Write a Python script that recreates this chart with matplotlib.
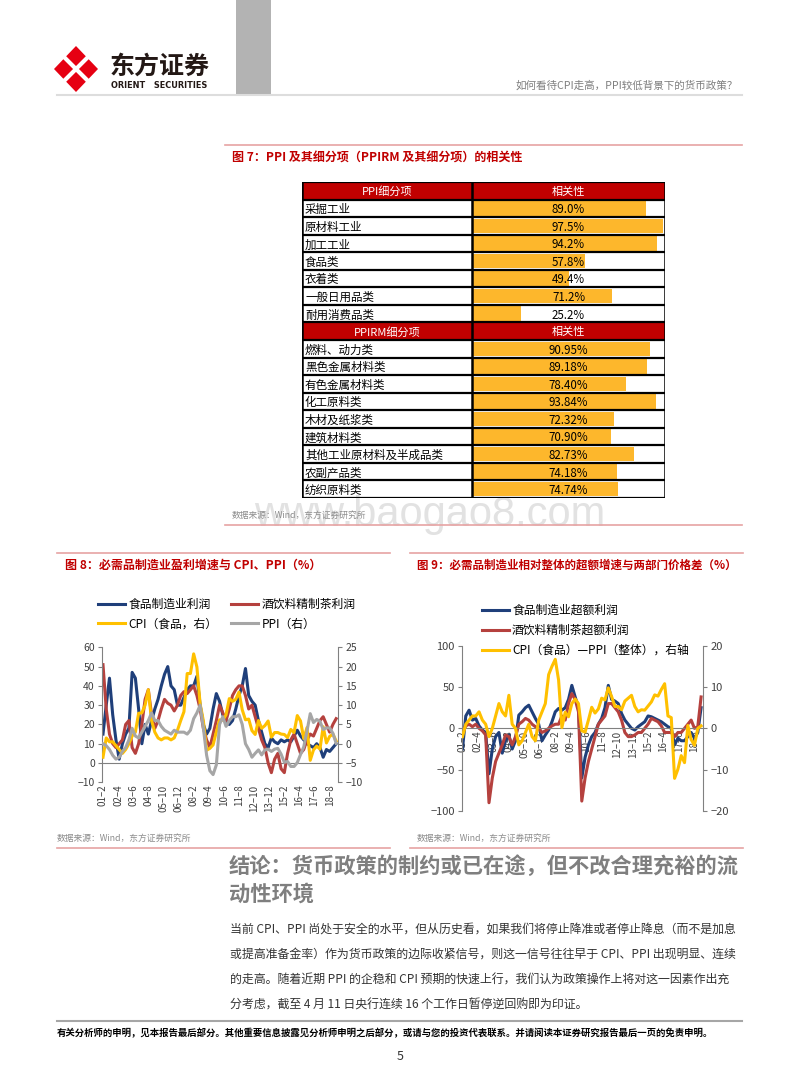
import numpy as np
import matplotlib
matplotlib.use("Agg")
import matplotlib.pyplot as plt
from matplotlib.patches import Polygon

plt.rcParams['font.family'] = ['Noto Sans CJK SC', 'DejaVu Sans']
plt.rcParams['axes.unicode_minus'] = True

W, H = 800, 1086

# ========== 图7 table data ==========
ppi_items = ['采掘工业', '原材料工业', '加工工业', '食品类', '衣着类', '一般日用品类', '耐用消费品类']
ppi_corr = [89.0, 97.5, 94.2, 57.8, 49.4, 71.2, 25.2]
ppirm_items = ['燃料、动力类', '黑色金属材料类', '有色金属材料类', '化工原料类', '木材及纸浆类',
               '建筑材料类', '其他工业原材料及半成品类', '农副产品类', '纺织原料类']
ppirm_corr = [90.95, 89.18, 78.40, 93.84, 72.32, 70.90, 82.73, 74.18, 74.74]

# ========== 图8 / 图9 data: quarterly, months counted from 2001-02 ==========
q_month = np.arange(0, 217, 3)
x_ticks = np.arange(0, 211, 14)
x_tick_labels = ['01–2', '02–4', '03–6', '04–8', '05–10', '06–12', '08–2', '09–4',
                 '10–6', '11–8', '12–10', '13–12', '15–2', '16–4', '17–6', '18–8']

food_profit = [15, 30, 44, 25, 12, 2, 10, 15, 18, 47, 44, 28, 10, 20, 15, 22,
               28, 33, 40, 46, 50, 40, 38, 30, 30, 34, 38, 40, 40, 45, 30, 20,
               15, 18, 28, 36, 32, 25, 22, 20, 22, 28, 35, 40, 49, 35, 32, 30,
               22, 16, 10, 8, 13, 11, 10, 12, 11, 12, 11, 14, 17, 14, 12, 10,
               9, 8, 10, 8, 3, 7, 6, 8, 10]
bev_profit = [51, 28, 15, 10, 8, 10, 12, 20, 22, 8, 5, 10, 20, 33, 38, 25,
              18, 22, 28, 33, 31, 30, 27, 30, 35, 37, 36, 38, 40, 35, 28, 18,
              12, 8, 15, 22, 30, 26, 22, 28, 35, 38, 40, 40, 35, 28, 30, 24,
              18, 12, 8, 0, -5, 2, 5, -3, -5, 5, 12, 15, 10, 5, 7, 12,
              15, 14, 18, 22, 24, 20, 16, 20, 23]
cpi_food = [-3.5, 1.5, 0.5, 0.5, -0.5, -1.5, -2.5, -1.5, 0, 2, 3, 7.9, 8, 10, 14, 6,
            3, 1.5, 1, 1.5, 1.5, 1, 1.5, 3.5, 6, 8.3, 18.2, 18.2, 23.3, 19.9, 10.3, 5.9,
            -1.7, -1.2, -0.3, 3.1, 6.2, 6.1, 7.5, 11.7, 11, 11.5, 13.4, 8.8, 6.2, 6.4, 3.4, 2.4,
            6, 4, 4.7, 5.9, 1.7, 2.9, 2.9, 2.5, 2.4, 1.6, 3.7, 2.9, 7.3, 5.9, 1.3, 4.2,
            -4.3, -1.6, -0.6, -1.4, 4.4, 0.2, 1.9, 2.5, 0.7]
ppi_all = [0, -0.5, -1.5, -3, -4, -3.5, -2, -1, 1, 4, 2, 1.5, 3, 4.5, 6, 8,
           6, 6, 4.5, 3.5, 3, 2.5, 3.5, 3, 3, 3, 2.5, 3.5, 6.5, 8, 10, 4,
           -3, -7, -8, -5.5, 5, 7, 4.5, 6, 7, 7, 7.5, 5, 0, -1.5, -3.5, -2.5,
           -1.6, -2.9, -1.6, -1.4, -2, -1.4, -1.2, -2.7, -4.8, -4.6, -5.9, -5.9, -4.9, -2.8, -0.8, 3.3,
           7.8, 5.5, 6.3, 5.8, 3.7, 4.1, 4.1, 2.7, 0.1]

food_excess = [-25, 15, 22, 10, 12, 3, -2, -5, -55, -25, -10, -5, -30, -15, -8, -25,
               -15, 16, 20, 25, 28, 20, 12, 5, -15, -8, -2, 8, 20, 24, 22, 25,
               35, 52, 38, 25, -60, -35, -20, -10, -5, 5, 12, 25, 52, 35, 33, 30,
               18, 10, 5, 0, -2, 2, 5, 8, 15, 14, 12, 10, 8, 5, 2, 0,
               -20, -12, -15, -15, -10, -5, -12, -5, 25]
bev_excess = [-5, 3, 5, 2, 5, 0, -3, -8, -90, -60, -40, -30, -20, -8, -10, -20,
              -10, 5, 8, 12, 10, 5, 2, 0, -5, -3, 0, 3, 5, 5, 15, 10,
              30, 42, 35, 20, -88, -60, -40, -25, -10, 5, 10, 15, 30, 30, 25, 20,
              10, -5, -10, -10, -8, -5, -5, 0, 5, 12, 10, 8, 3, -5, -5, -5,
              -10, -5, -5, 0, 5, 10, 0, 2, 38]
price_gap = [-2, 1, 2, 3, 3, 4, 2, 1, -2, 0, 3, 6, 4, 3, 8, 1,
             0, -4, -3, -1, 1, -2, -3, 2, 4, 6, 13, 15, 16.7, 11.7, 0.2, 3.9,
             2.8, 6, 7.1, 6, -0.6, -0.9, 2, 5.1, 3.7, 4.7, 7.3, 6.9, 9.8, 7.7, 5.3, 5.3,
             4.5, 6.6, 7.3, 8, 5.3, 4, 4.5, 4.4, 5.4, 6.4, 8.1, 7.8, 9.4, 10.8, 3, 2.6,
             -12.1, -9.9, -6.6, -8.3, 0.7, -2.7, -4.1, 0, 0.6]

RED = '#C00000'
PINK = '#E6A3A3'
ORANGE = '#FDB72C'
BLUE = '#1F3F7A'
WINE = '#B5413E'
YELLOW = '#FFC000'
GREY = '#A6A6A6'
AXC = '#808080'
TXT = '#404040'


def rect(l, t, r, b):
    # pixel box (top-left origin) -> figure fraction
    return [l / W, 1 - b / H, (r - l) / W, (b - t) / H]


fig = plt.figure(figsize=(8, 10.86), dpi=100)
page = fig.add_axes([0, 0, 1, 1])
page.set_xlim(0, W)
page.set_ylim(H, 0)
page.axis('off')

# ========== page header ==========
page.fill_between([236, 271], 0, 95, color='#B3B3B3', lw=0)
page.add_patch(Polygon([[76, 46], [98, 69], [76, 92], [54, 69]], closed=True, color='#E60012', lw=0))
page.plot([61, 91], [54, 84], color='white', lw=3)
page.plot([91, 61], [54, 84], color='white', lw=3)
page.text(110, 67, '东方证券', fontsize=18, fontweight='bold', color='#231815', va='center')
page.text(111, 86, 'ORIENT   SECURITIES', fontsize=5.9, fontweight='bold', color='#231815',
          va='center', family='DejaVu Sans')
page.text(738, 85, '如何看待CPI走高，PPI较低背景下的货币政策？', fontsize=7.6, color='#7F7F7F',
          ha='right', va='center')
page.plot([57, 742], [95, 95], color='#DDDDDD', lw=1.5)

# ========== 图7 ==========
page.plot([225, 742], [145, 145], color=PINK, lw=1.2)
page.text(232, 157, '图 7：PPI 及其细分项（PPIRM 及其细分项）的相关性', fontsize=8.65,
          fontweight='bold', color=RED, va='center')

bars = fig.add_axes(rect(472, 182, 665, 498))
bars.set_xlim(0, 98.5)
bars.set_ylim(18, 0)
bars.axis('off')
bars.barh(np.arange(1, 8) + 0.5, ppi_corr, height=0.82, color=ORANGE, lw=0)
bars.barh(np.arange(9, 18) + 0.5, ppirm_corr, height=0.82, color=ORANGE, lw=0)

tab = fig.add_axes(rect(302, 182, 665, 498))
tab.set_facecolor('none')
tab.set_xlim(0, 363)
tab.set_ylim(18, 0)
tab.axis('off')
for r in (0, 8):
    tab.axhspan(r, r + 1, color=RED, lw=0)
tab.hlines(np.arange(19), 0, 363, color='black', lw=1.6)
tab.vlines([0, 170, 363], 0, 18, color='black', lw=1.8)
tab.text(85, 0.55, 'PPI细分项', color='white', fontsize=8, ha='center', va='center')
tab.text(266.5, 0.55, '相关性', color='white', fontsize=8, ha='center', va='center')
tab.text(85, 8.55, 'PPIRM细分项', color='white', fontsize=8, ha='center', va='center')
tab.text(266.5, 8.55, '相关性', color='white', fontsize=8, ha='center', va='center')
for i, (name, v) in enumerate(zip(ppi_items, ppi_corr)):
    tab.text(3, i + 1.58, name, fontsize=8.3, va='center', color='black')
    tab.text(266.5, i + 1.58, f'{v:.1f}%', fontsize=8.3, va='center', ha='center', color='black')
for i, (name, v) in enumerate(zip(ppirm_items, ppirm_corr)):
    tab.text(3, i + 9.58, name, fontsize=8.3, va='center', color='black')
    tab.text(266.5, i + 9.58, f'{v:.2f}%', fontsize=8.3, va='center', ha='center', color='black')

# watermark sits behind the source note, just under the table
page.text(605, 526, 'www.baogao8.com', fontsize=30, color='#E2E2E2', ha='right', va='baseline',
          family='Liberation Sans', zorder=0)
page.text(232, 515, '数据来源：Wind，东方证券研究所', fontsize=6.3, color='#8C8C8C', va='center')
page.plot([225, 742], [525, 525], color=PINK, lw=1.2)

# ========== 图8 ==========
page.plot([57, 390], [553, 553], color=PINK, lw=1.2)
page.text(65, 565, '图 8：必需品制造业盈利增速与 CPI、PPI（%）', fontsize=8.65,
          fontweight='bold', color=RED, va='center')

ax8 = fig.add_axes(rect(101.7, 647.3, 338.3, 782.3))
ax8.set_facecolor('none')
ax8r = ax8.twinx()
h1, = ax8.plot(q_month, food_profit, color=BLUE, lw=2.2)
h2, = ax8.plot(q_month, bev_profit, color=WINE, lw=2.2)
h3, = ax8r.plot(q_month, cpi_food, color=YELLOW, lw=2.2)
h4, = ax8r.plot(q_month, ppi_all, color=GREY, lw=2.2)
ax8.set_xlim(-1.2, 218)
ax8.set_ylim(-10, 60)
ax8r.set_ylim(-10, 25)
ax8.set_yticks(np.arange(-10, 61, 10))
ax8r.set_yticks(np.arange(-10, 26, 5))
ax8.axhline(0, color=AXC, lw=0.8, zorder=1)
for a in (ax8, ax8r):
    for s in ('top', 'bottom', 'left', 'right'):
        a.spines[s].set_visible(False)
ax8.spines['left'].set_visible(True)
ax8r.spines['right'].set_visible(True)
ax8.spines['left'].set_color(AXC)
ax8r.spines['right'].set_color(AXC)
ax8.tick_params(axis='y', length=3, color=AXC, labelsize=7.5, labelcolor=TXT, pad=2)
ax8r.tick_params(axis='y', length=3, color=AXC, labelsize=7.5, labelcolor=TXT, pad=2)
ax8.set_xticks(x_ticks)
ax8.set_xticklabels(x_tick_labels, rotation=90, fontsize=7, color=TXT)
ax8.tick_params(axis='x', length=0, pad=1.5)
ax8.legend(handles=[h1, h3, h2, h4],
           labels=['食品制造业利润', 'CPI（食品，右）', '酒饮料精制茶利润', 'PPI（右）'],
           ncol=2, loc='upper left', bbox_to_anchor=(98 / W, 1 - 598 / H),
           bbox_transform=fig.transFigure, frameon=False, fontsize=8.5,
           handlelength=2.3, handletextpad=0.25, columnspacing=1.2,
           labelspacing=0.55, borderpad=0, borderaxespad=0)

page.text(57, 838, '数据来源：Wind，东方证券研究所', fontsize=6.3, color='#8C8C8C', va='center')
page.plot([57, 390], [848, 848], color=PINK, lw=1.2)

# ========== 图9 ==========
page.plot([410, 743], [553, 553], color=PINK, lw=1.2)
page.text(417, 565, '图 9：必需品制造业相对整体的超额增速与两部门价格差（%）', fontsize=8.3,
          fontweight='bold', color=RED, va='center')

ax9 = fig.add_axes(rect(461.7, 645.7, 703.3, 811))
ax9.set_facecolor('none')
ax9r = ax9.twinx()
g1, = ax9.plot(q_month, food_excess, color=BLUE, lw=2.2)
g2, = ax9.plot(q_month, bev_excess, color=WINE, lw=2.2)
g3, = ax9r.plot(q_month, price_gap, color=YELLOW, lw=2.2)
ax9.set_xlim(-0.7, 218)
ax9.set_ylim(-100, 100)
ax9r.set_ylim(-20, 20)
ax9.set_yticks(np.arange(-100, 101, 50))
ax9r.set_yticks(np.arange(-20, 21, 10))
for a in (ax9, ax9r):
    for s in ('top', 'bottom', 'left', 'right'):
        a.spines[s].set_visible(False)
ax9.spines['left'].set_visible(True)
ax9.spines['bottom'].set_visible(True)
ax9.spines['bottom'].set_position(('data', 0))
ax9r.spines['right'].set_visible(True)
for s in (ax9.spines['left'], ax9.spines['bottom'], ax9r.spines['right']):
    s.set_color(AXC)
    s.set_linewidth(0.8)
ax9.tick_params(axis='y', length=3, color=AXC, labelsize=8, labelcolor=TXT, pad=2)
ax9r.tick_params(axis='y', length=3, color=AXC, labelsize=8, labelcolor=TXT, pad=2)
ax9.set_xticks(x_ticks)
ax9.set_xticklabels(x_tick_labels, rotation=90, fontsize=7, color=TXT)
ax9.tick_params(axis='x', length=0, pad=1.5)
ax9.legend(handles=[g1, g2, g3],
           labels=['食品制造业超额利润', '酒饮料精制茶超额利润', 'CPI（食品）—PPI（整体），右轴'],
           loc='upper left', bbox_to_anchor=(482 / W, 1 - 604 / H),
           bbox_transform=fig.transFigure, frameon=False, fontsize=8.5,
           handlelength=2.3, handletextpad=0.25, labelspacing=0.58,
           borderpad=0, borderaxespad=0)

page.text(417, 838, '数据来源：Wind，东方证券研究所', fontsize=6.3, color='#8C8C8C', va='center')
page.plot([410, 743], [848, 848], color=PINK, lw=1.2)

# ========== 结论 ==========
page.text(229, 866, '结论：货币政策的制约或已在途，但不改合理充裕的流', fontsize=15.3,
          fontweight='bold', color='#7F7F7F', va='center')
page.text(229, 894, '动性环境', fontsize=15.3, fontweight='bold', color='#7F7F7F', va='center')
body = ['当前 CPI、PPI 尚处于安全的水平，但从历史看，如果我们将停止降准或者停止降息（而不是加息',
        '或提高准备金率）作为货币政策的边际收紧信号，则这一信号往往早于 CPI、PPI 出现明显、连续',
        '的走高。随着近期 PPI 的企稳和 CPI 预期的快速上行，我们认为政策操作上将对这一因素作出充',
        '分考虑，截至 4 月 11 日央行连续 16 个工作日暂停逆回购即为印证。']
for k, line in enumerate(body):
    page.text(230, 929 + 25.5 * k, line, fontsize=8.6, color='#333333', va='center')

# ========== footer ==========
page.plot([57, 742], [1021, 1021], color='#A6A6A6', lw=1.5)
page.text(57, 1033, '有关分析师的申明，见本报告最后部分。其他重要信息披露见分析师申明之后部分，或请与您的投资代表联系。'
          '并请阅读本证券研究报告最后一页的免责申明。', fontsize=6.75, fontweight='bold', color='black', va='center')
page.text(400, 1057, '5', fontsize=9, color='#333333', ha='center', va='center')

fig.savefig('out.png', dpi=100)
